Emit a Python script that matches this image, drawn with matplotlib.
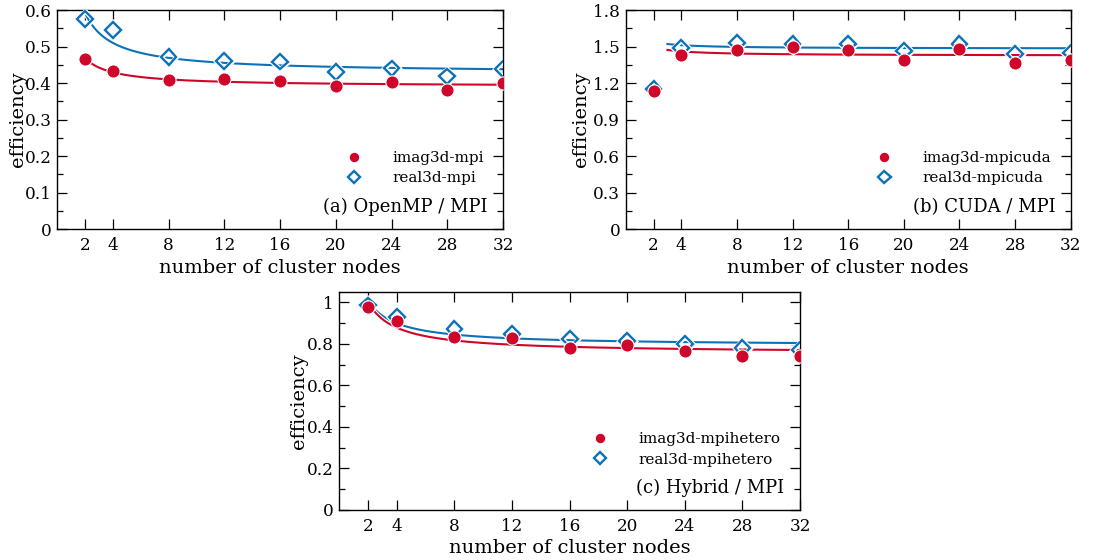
import numpy as np
import matplotlib.pyplot as plt
import matplotlib.patheffects as pe
from matplotlib.ticker import MultipleLocator

plt.rcParams["font.family"] = ["DejaVu Serif"]

RED = "#D0052A"
BLUE = "#0B72B8"

nodes = [2, 4, 8, 12, 16, 20, 24, 28, 32]

imag_mpi = [0.466, 0.434, 0.408, 0.410, 0.407, 0.391, 0.404, 0.380, 0.399]
real_mpi = [0.575, 0.546, 0.471, 0.461, 0.459, 0.430, 0.440, 0.418, 0.439]

imag_cuda = [1.138, 1.431, 1.473, 1.494, 1.473, 1.390, 1.478, 1.368, 1.390]
real_cuda = [1.152, 1.486, 1.533, 1.519, 1.525, 1.467, 1.519, 1.440, 1.451]

imag_het = [0.978, 0.909, 0.832, 0.827, 0.781, 0.795, 0.765, 0.742, 0.739]
real_het = [0.984, 0.928, 0.872, 0.848, 0.824, 0.813, 0.800, 0.779, 0.771]


def fit_curve(x, y, x0):
    # least-squares fit of a + b/x, like the gnuplot fit in the original
    x = np.asarray(x, float)
    y = np.asarray(y, float)
    b, a = np.polyfit(1.0 / x, y, 1)
    xs = np.linspace(x0, 32, 300)
    return xs, a + b / xs


def panel(rect, imag, real, labels, tag, ymax, major, minor, fit_from=0,
          ylab_x=-0.068):
    ax = fig.add_axes(rect)
    halo = [pe.Stroke(linewidth=3.0, foreground="white"), pe.Normal()]
    x0 = nodes[fit_from] - (1 if fit_from else 0)
    xr, yr = fit_curve(nodes[fit_from:], real[fit_from:], x0)
    xi, yi = fit_curve(nodes[fit_from:], imag[fit_from:], x0)
    ax.plot(xr, yr, color=BLUE, lw=1.5, path_effects=halo, zorder=2)
    ax.plot(xi, yi, color=RED, lw=1.5, path_effects=halo, zorder=2)
    ax.plot(nodes, real, ls="none", marker="D", ms=8, mfc="none", mec=BLUE,
            mew=1.7, zorder=3, label=labels[1],
            path_effects=[pe.Stroke(linewidth=3.5, foreground="white"),
                          pe.Normal()])
    ax.plot(nodes, imag, ls="none", marker="o", ms=9.5, mfc=RED, mec="white",
            mew=0.8, zorder=4, label=labels[0])
    ax.set_xlim(0, 32)
    ax.set_ylim(0, ymax)
    ax.set_xticks(nodes)
    ax.yaxis.set_major_locator(MultipleLocator(major))
    ax.yaxis.set_minor_locator(MultipleLocator(minor))
    ax.yaxis.set_major_formatter(lambda v, p: f"{v:g}")
    ax.tick_params(direction="in", top=True, right=True, labelsize=12.2,
                   length=7, width=0.9)
    ax.tick_params(axis="x", pad=6)
    ax.tick_params(axis="y", pad=4)
    ax.tick_params(which="minor", direction="in", right=True, length=4,
                   width=0.9)
    for s in ax.spines.values():
        s.set_linewidth(1.0)
    ax.set_xlabel("number of cluster nodes", fontsize=14, labelpad=3)
    ax.set_ylabel("efficiency", fontsize=14)
    ax.yaxis.set_label_coords(ylab_x, 0.5)
    h, l = ax.get_legend_handles_labels()
    ax.legend(h[::-1], l[::-1], loc="upper right",
              bbox_to_anchor=(0.97, 0.385), frameon=False, fontsize=11,
              markerscale=0.8, handlelength=1.0, handletextpad=2.0,
              labelspacing=0.42, borderaxespad=0)
    ax.text(0.965, 0.10, tag, transform=ax.transAxes, ha="right",
            va="center", fontsize=13)
    return ax


fig = plt.figure(figsize=(11.01, 5.6), dpi=100)

panel([0.0518, 0.591, 0.4051, 0.391], imag_mpi, real_mpi,
      ["imag3d-mpi", "real3d-mpi"], "(a) OpenMP / MPI", 0.6, 0.1, 0.05)
panel([0.5683, 0.591, 0.4042, 0.391], imag_cuda, real_cuda,
      ["imag3d-mpicuda", "real3d-mpicuda"], "(b) CUDA / MPI", 1.8, 0.3, 0.15,
      fit_from=1, ylab_x=-0.08)
panel([0.3082, 0.0893, 0.4184, 0.3897], imag_het, real_het,
      ["imag3d-mpihetero", "real3d-mpihetero"], "(c) Hybrid / MPI", 1.05,
      0.2, 0.1)

fig.savefig("out.png", dpi=100)
